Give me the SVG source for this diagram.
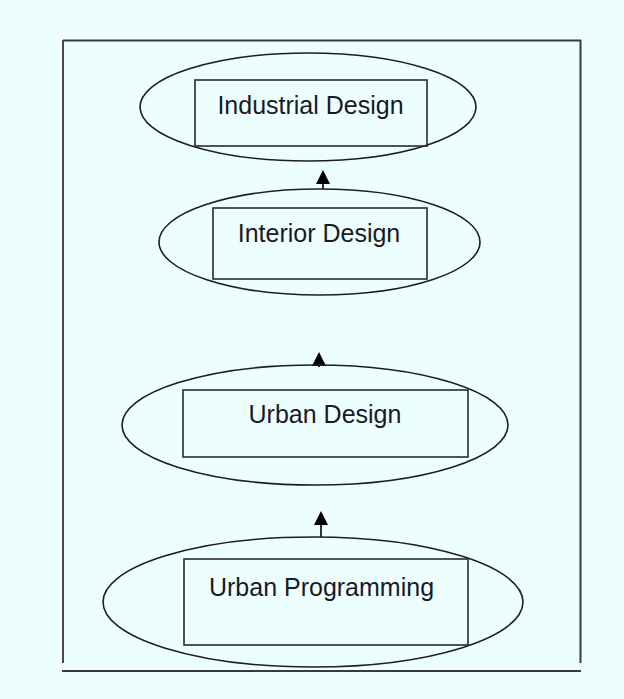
<svg xmlns="http://www.w3.org/2000/svg" width="624" height="699" viewBox="0 0 624 699">
<style>
.frame{stroke:#3a3a3a;stroke-width:2;fill:none}
.ell{fill:none;stroke:#1e1e1e;stroke-width:1.6}
.box{fill:none;stroke:#2a2a2a;stroke-width:1.6}
.lbl{font-family:"Liberation Sans",Arial,sans-serif;font-size:25px;fill:#1a1a26;text-anchor:middle}
.conn{stroke:#000;stroke-width:1.6;fill:none;marker-end:url(#ah)}
</style>
<defs>
<marker id="ah" viewBox="0 0 14 14" refX="0" refY="7" markerWidth="14" markerHeight="14" markerUnits="userSpaceOnUse" orient="auto">
<path d="M0,0 L14,7 L0,14 z" fill="#000"/>
</marker>
</defs>
<rect width="624" height="699" fill="#edfefe"/>
<g id="frame">
<line class="frame" x1="63" y1="40.5" x2="581" y2="40.5"/>
<line class="frame" x1="63" y1="40" x2="63" y2="663" style="stroke:#5a4646"/>
<line class="frame" x1="580.5" y1="40" x2="580.5" y2="663"/>
<line class="frame" x1="62" y1="671" x2="581" y2="671"/>
</g>
<g id="connectors">
<line class="conn" x1="323" y1="189" x2="323" y2="184"/>
<line class="conn" x1="319" y1="367" x2="319" y2="366"/>
<line class="conn" x1="321" y1="537" x2="321" y2="525"/>
</g>
<g id="industrial-design">
<ellipse class="ell" cx="308" cy="107" rx="168" ry="54"/>
<rect class="box" x="195" y="80" width="232" height="66"/>
<text class="lbl" x="310.5" y="114">Industrial Design</text>
</g>
<g id="interior-design">
<ellipse class="ell" cx="319.5" cy="242" rx="160.5" ry="53"/>
<rect class="box" x="213" y="208" width="214" height="71"/>
<text class="lbl" x="319" y="242">Interior Design</text>
</g>
<g id="urban-design">
<ellipse class="ell" cx="315" cy="425" rx="193" ry="60"/>
<rect class="box" x="183" y="390" width="285" height="67"/>
<text class="lbl" x="325" y="423">Urban Design</text>
</g>
<g id="urban-programming">
<ellipse class="ell" cx="313" cy="602" rx="210" ry="65"/>
<rect class="box" x="184" y="559" width="284" height="86"/>
<text class="lbl" x="321.5" y="596">Urban Programming</text>
</g>
</svg>
